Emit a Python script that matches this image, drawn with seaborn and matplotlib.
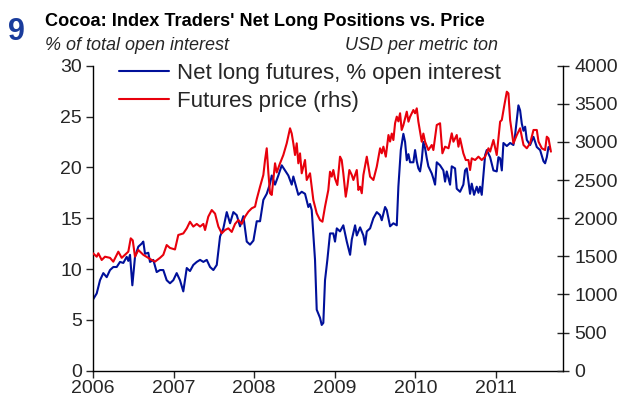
import matplotlib
matplotlib.use("Agg")
import matplotlib.pyplot as plt
import seaborn as sns
import pandas as pd

# ---- data (time in fractional years) ----
net_long_time = [
    2006.000, 2006.046, 2006.087, 2006.128, 2006.170, 2006.211, 2006.252, 2006.294, 2006.335, 2006.376,
    2006.418, 2006.438, 2006.459, 2006.488, 2006.521, 2006.562, 2006.604, 2006.624, 2006.645, 2006.686,
    2006.707, 2006.748, 2006.790, 2006.831, 2006.872, 2006.914, 2006.955, 2006.996, 2007.038, 2007.079,
    2007.120, 2007.163, 2007.203, 2007.244, 2007.287, 2007.328, 2007.369, 2007.411, 2007.452, 2007.493,
    2007.535, 2007.576, 2007.617, 2007.659, 2007.700, 2007.741, 2007.783, 2007.824, 2007.865, 2007.907,
    2007.948, 2007.990, 2008.031, 2008.072, 2008.113, 2008.155, 2008.196, 2008.217, 2008.258, 2008.299,
    2008.341, 2008.382, 2008.423, 2008.465, 2008.485, 2008.547, 2008.589, 2008.630, 2008.671, 2008.692,
    2008.713, 2008.754, 2008.775, 2008.795, 2008.816, 2008.837, 2008.857, 2008.878, 2008.907, 2008.940,
    2008.981, 2009.002, 2009.024, 2009.064, 2009.105, 2009.148, 2009.189, 2009.210, 2009.251, 2009.272,
    2009.313, 2009.354, 2009.375, 2009.396, 2009.437, 2009.478, 2009.520, 2009.561, 2009.582, 2009.623,
    2009.644, 2009.685, 2009.726, 2009.768, 2009.788, 2009.818, 2009.850, 2009.871, 2009.892, 2009.913,
    2009.933, 2009.974, 2009.995, 2010.016, 2010.036, 2010.057, 2010.078, 2010.098, 2010.119, 2010.140,
    2010.160, 2010.202, 2010.222, 2010.243, 2010.264, 2010.305, 2010.346, 2010.367, 2010.388, 2010.429,
    2010.450, 2010.491, 2010.512, 2010.553, 2010.594, 2010.615, 2010.636, 2010.677, 2010.698, 2010.727,
    2010.760, 2010.781, 2010.801, 2010.822, 2010.843, 2010.864, 2010.884, 2010.926, 2010.967, 2011.008,
    2011.029, 2011.050, 2011.071, 2011.091, 2011.133, 2011.174, 2011.215, 2011.236, 2011.257, 2011.277,
    2011.298, 2011.319, 2011.340, 2011.360, 2011.381, 2011.422, 2011.464, 2011.505, 2011.546, 2011.588,
    2011.608, 2011.629, 2011.650, 2011.670,
]
net_long_pct = [
    7.0, 7.6, 8.9, 9.6, 9.2, 9.9, 10.2, 10.2, 10.7, 10.6,
    11.2, 10.8, 11.4, 8.4, 11.2, 12.2, 12.5, 12.7, 11.5, 11.6,
    10.7, 10.9, 9.7, 9.9, 9.9, 8.9, 8.6, 8.9, 9.6, 8.9,
    7.8, 10.1, 9.8, 10.4, 10.7, 10.9, 10.7, 10.9, 10.2, 9.9,
    10.4, 13.2, 14.0, 15.6, 14.5, 15.6, 15.3, 14.2, 15.2, 12.7,
    12.4, 12.8, 14.7, 14.7, 16.8, 17.4, 18.4, 19.2, 18.3, 19.2,
    20.2, 19.7, 19.2, 18.3, 19.1, 17.3, 17.6, 17.4, 16.1, 16.4,
    15.8, 10.9, 6.0, 5.6, 5.2, 4.5, 4.7, 8.9, 10.9, 13.5,
    13.5, 12.7, 14.0, 13.7, 14.3, 12.7, 11.4, 12.9, 14.3, 13.3,
    14.1, 13.3, 12.4, 13.7, 14.0, 15.0, 15.6, 15.3, 14.8, 16.1,
    15.8, 14.2, 14.5, 14.3, 18.1, 21.7, 23.3, 22.5, 20.7, 21.3,
    20.5, 20.5, 21.7, 20.6, 19.9, 19.6, 20.7, 22.5, 21.9, 20.9,
    20.1, 19.4, 18.9, 18.3, 20.5, 20.2, 19.7, 18.6, 19.6, 18.3,
    20.1, 19.9, 17.9, 17.6, 18.3, 19.7, 19.9, 17.4, 18.4, 17.3,
    18.1, 17.5, 18.1, 17.3, 19.2, 21.2, 21.7, 21.0, 19.7, 19.6,
    21.0, 20.9, 19.7, 22.4, 22.1, 22.4, 22.2, 23.2, 24.7, 26.1,
    25.6, 24.3, 23.6, 24.0, 22.7, 22.2, 23.0, 22.0, 21.7, 20.6,
    20.4, 21.0, 22.0, 21.8,
]

price_time = [
    2006.000, 2006.046, 2006.066, 2006.108, 2006.149, 2006.211, 2006.252, 2006.314, 2006.356, 2006.397,
    2006.438, 2006.468, 2006.493, 2006.521, 2006.562, 2006.624, 2006.686, 2006.728, 2006.769, 2006.831,
    2006.872, 2006.914, 2006.955, 2007.017, 2007.058, 2007.120, 2007.163, 2007.203, 2007.244, 2007.287,
    2007.328, 2007.369, 2007.390, 2007.430, 2007.473, 2007.514, 2007.555, 2007.597, 2007.638, 2007.679,
    2007.721, 2007.762, 2007.803, 2007.845, 2007.886, 2007.927, 2007.969, 2008.010, 2008.031, 2008.072,
    2008.113, 2008.134, 2008.155, 2008.175, 2008.196, 2008.217, 2008.258, 2008.279, 2008.320, 2008.361,
    2008.403, 2008.444, 2008.465, 2008.485, 2008.506, 2008.527, 2008.547, 2008.568, 2008.589, 2008.630,
    2008.651, 2008.692, 2008.713, 2008.733, 2008.775, 2008.816, 2008.846, 2008.878, 2008.919, 2008.940,
    2008.961, 2008.981, 2009.002, 2009.031, 2009.064, 2009.085, 2009.105, 2009.135, 2009.155, 2009.180,
    2009.210, 2009.230, 2009.272, 2009.292, 2009.313, 2009.334, 2009.354, 2009.396, 2009.437, 2009.478,
    2009.520, 2009.561, 2009.582, 2009.602, 2009.632, 2009.665, 2009.685, 2009.706, 2009.726, 2009.747,
    2009.768, 2009.788, 2009.809, 2009.829, 2009.850, 2009.892, 2009.913, 2009.933, 2009.974, 2009.995,
    2010.016, 2010.036, 2010.057, 2010.078, 2010.098, 2010.119, 2010.160, 2010.202, 2010.222, 2010.264,
    2010.305, 2010.334, 2010.367, 2010.410, 2010.450, 2010.471, 2010.512, 2010.533, 2010.553, 2010.594,
    2010.624, 2010.657, 2010.677, 2010.698, 2010.740, 2010.781, 2010.822, 2010.864, 2010.905, 2010.926,
    2010.967, 2011.008, 2011.050, 2011.071, 2011.099, 2011.133, 2011.153, 2011.174, 2011.215, 2011.257,
    2011.298, 2011.340, 2011.381, 2011.422, 2011.464, 2011.505, 2011.526, 2011.567, 2011.608, 2011.629,
    2011.650, 2011.680,
]
price_usd = [
    1540, 1495, 1540, 1452, 1495, 1480, 1430, 1561, 1480, 1520,
    1561, 1736, 1710, 1495, 1583, 1520, 1480, 1452, 1430, 1480,
    1520, 1648, 1610, 1590, 1780, 1800, 1867, 1954, 1890, 1925,
    1890, 1925, 1845, 2020, 2107, 2060, 1890, 1802, 1845, 1867,
    1820, 1925, 1976, 1925, 2020, 2085, 2130, 2151, 2250, 2413,
    2567, 2763, 2917, 2600, 2327, 2305, 2720, 2600, 2720, 2829,
    2982, 3179, 3110, 2982, 2829, 2982, 2720, 2850, 2589, 2763,
    2501, 2589, 2413, 2239, 2064, 1976, 1954, 2151, 2370, 2610,
    2545, 2632, 2520, 2435, 2807, 2763, 2589, 2282, 2413, 2632,
    2567, 2501, 2632, 2370, 2413, 2327, 2567, 2807, 2545, 2501,
    2676, 2917, 2851, 2938, 2807, 3091, 3005, 3110, 3025, 3245,
    3332, 3270, 3376, 3157, 3220, 3397, 3266, 3330, 3419, 3376,
    3441, 3266, 3135, 3003, 3110, 3003, 2894, 2960, 2894, 3222,
    3245, 2851, 2938, 2917, 3113, 3003, 3091, 2938, 3047, 2851,
    2763, 2763, 2632, 2785, 2763, 2807, 2763, 2807, 2917, 2873,
    3026, 2829, 3266, 3288, 3462, 3659, 3637, 3288, 2982, 3091,
    3179, 2960, 2917, 2982, 3157, 3157, 3005, 2917, 2894, 3069,
    3047, 2873,
]

year_ticks = [2006, 2007, 2008, 2009, 2010, 2011]
left_ticks = [0, 5, 10, 15, 20, 25, 30]
right_ticks = [0, 500, 1000, 1500, 2000, 2500, 3000, 3500, 4000]

df_net = pd.DataFrame({"time": net_long_time, "value": net_long_pct})
df_px = pd.DataFrame({"time": price_time, "value": price_usd})

sns.set_style("ticks")
plt.rcParams["font.family"] = ["Liberation Sans", "DejaVu Sans"]

BLUE = "#00109a"
RED = "#e8000c"

fig = plt.figure(figsize=(6.3, 4.05), dpi=100)
ax = fig.add_axes([93 / 630, 1 - 370.7 / 405, (563 - 93) / 630, (370.7 - 65.7) / 405])
ax2 = ax.twinx()

sns.lineplot(data=df_net, x="time", y="value", ax=ax, color=BLUE, linewidth=1.5,
             label="Net long futures, % open interest", legend=False)
sns.lineplot(data=df_px, x="time", y="value", ax=ax2, color=RED, linewidth=1.5,
             label="Futures price (rhs)", legend=False)

ax.set_xlim(2006, 2011.83)
ax.set_ylim(0, 30)
ax2.set_ylim(0, 4000)
ax.set_xticks(year_ticks)
ax.set_xticklabels([str(y) for y in year_ticks])
ax.set_yticks(left_ticks)
ax2.set_yticks(right_ticks)
ax.set_xlabel("")
ax.set_ylabel("")
ax2.set_ylabel("")

for a in (ax, ax2):
    a.spines["top"].set_visible(False)
    for s in a.spines.values():
        s.set_linewidth(1.0)
        s.set_color("black")
ax.spines["right"].set_visible(False)
ax2.spines["left"].set_visible(False)
ax2.spines["bottom"].set_visible(False)
ax2.spines["right"].set_visible(True)

ax.tick_params(axis="x", direction="out", length=5, width=1, labelsize=14, pad=2)
ax.tick_params(axis="y", direction="out", length=5, width=1, labelsize=14, pad=3)
ax2.tick_params(axis="y", direction="inout", length=8, width=1, labelsize=14, pad=4)

h1, l1 = ax.get_legend_handles_labels()
h2, l2 = ax2.get_legend_handles_labels()
ax2.legend(h1 + h2, l1 + l2, loc="upper left", bbox_to_anchor=(119 / 630, 1 - 63 / 405),
           bbox_transform=fig.transFigure, frameon=False, fontsize=16,
           handlelength=2.25, handletextpad=0.35, labelspacing=0.3, borderpad=0, borderaxespad=0)

fig.text(8 / 630, 1 - 40 / 405, "9", fontsize=22, fontweight="bold", color="#1a3c9c",
         ha="left", va="baseline")
fig.text(45 / 630, 1 - 26.5 / 405, "Cocoa: Index Traders' Net Long Positions vs. Price",
         fontsize=13.1, fontweight="bold", color="black", ha="left", va="baseline")
fig.text(45 / 630, 1 - 50 / 405, "% of total open interest", fontsize=13, style="italic",
         ha="left", va="baseline")
fig.text(498 / 630, 1 - 50 / 405, "USD per metric ton", fontsize=13, style="italic",
         ha="right", va="baseline")

fig.savefig("out.png", dpi=100, facecolor="white")
